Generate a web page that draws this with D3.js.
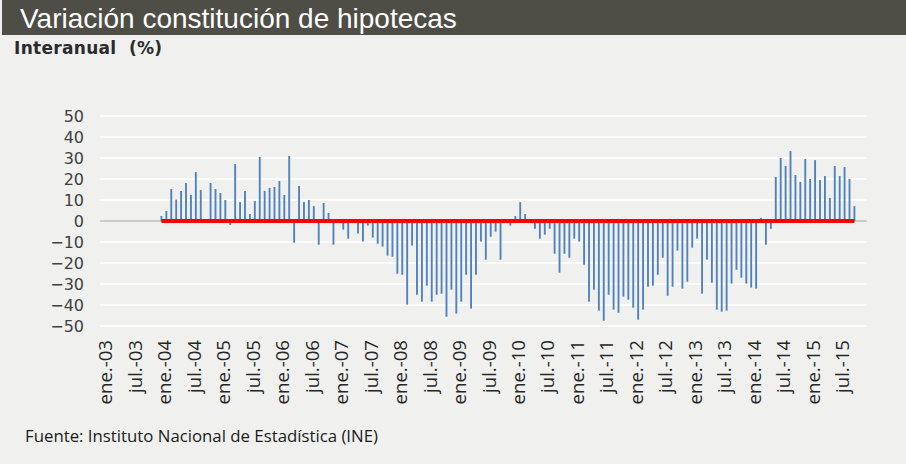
<!DOCTYPE html>
<html>
<head>
<meta charset="utf-8">
<script src="https://cdn.jsdelivr.net/npm/d3@7"></script>
<style>
  html, body { margin: 0; padding: 0; background: #f0f1ef; }
  svg { display: block; }
</style>
</head>
<body>
<svg id="chart" width="906" height="464"></svg>
<script>
// ---- Data ----
const years = ["03","04","05","06","07","08","09","10","11","12","13","14","15"];
const monthNames = ["ene.","feb.","mar.","abr.","may.","jun.","jul.","ago.","sep.","oct.","nov.","dic."];

const v2003 = [null,null,null,null,null,null,null,null,null,null,null,null];
const v2004 = [2.4, 4.8, 15.2, 10.2, 14.3, 18.1, 12.4, 23.3, 14.8, -0.8, 18.1, 15.2];
const v2005 = [13.3, 10.0, -1.9, 27.1, 9.0, 14.3, 3.3, 9.5, 30.5, 14.3, 15.7, 16.2];
const v2006 = [19.0, 12.4, 31.0, -10.3, 16.7, 9.0, 10.0, 7.1, -11.3, 8.6, 3.8, -11.3];
const v2007 = [0.0, -4.1, -8.4, 0.0, -6.0, -9.8, -2.2, -7.9, -10.8, -12.2, -16.5, -17.0];
const v2008 = [-25.1, -25.6, -39.8, -11.7, -35.1, -38.4, -30.8, -38.4, -35.1, -34.6, -45.6, -32.7];
const v2009 = [-44.1, -38.4, -25.6, -41.7, -25.6, -9.8, -18.4, -7.5, -5.1, -18.4, 1.0, -2.2];
const v2010 = [2.4, 9.0, 3.3, 1.0, -3.7, -8.4, -6.5, -3.7, -15.6, -24.6, -15.6, -17.5];
const v2011 = [-8.4, -9.8, -20.8, -38.4, -32.7, -42.7, -47.5, -35.1, -42.2, -43.7, -36.0, -37.5];
const v2012 = [-41.3, -47.0, -42.2, -31.3, -30.8, -25.6, -17.5, -35.6, -31.3, -14.1, -32.2, -28.9];
const v2013 = [-12.7, -8.4, -34.6, -18.4, -29.4, -42.2, -43.2, -42.7, -29.8, -23.2, -27.0, -29.8];
const v2014 = [-31.7, -32.2, 1.4, -11.3, -3.7, 21.0, 30.0, 26.2, 33.3, 21.9, 18.6, 29.5];
const v2015 = [20.0, 29.0, 19.5, 21.4, 11.0, 26.2, 21.4, 25.7, 20.0, 7.1, null, null];

const yTicks = [50, 40, 30, 20, 10, 0, -10, -20, -30, -40, -50];

const titleText = "Variación constitución de hipotecas";
const subtitleText = "Interanual\u00a0\u00a0(%)";
const sourceText = "Fuente: Instituto Nacional de Estadística (INE)";

// ---- Build table ----
const yearly = [v2003,v2004,v2005,v2006,v2007,v2008,v2009,v2010,v2011,v2012,v2013,v2014,v2015];
const months = [];
yearly.forEach((arr, yi) => arr.forEach((v, mi) => {
  months.push({ label: monthNames[mi] + "-" + years[yi], value: v, m: mi });
}));
const xTickLabels = months.filter(d => d.m === 0 || d.m === 6).map(d => d.label);

// ---- Layout ----
const svg = d3.select("#chart");
const W = 906, H = 464;
const plot = { left: 100, right: 866.7, top: 116, bottom: 326 };

svg.append("rect").attr("x", 0).attr("y", 0).attr("width", W).attr("height", H).attr("fill", "#f0f1ef");
svg.append("rect").attr("x", 2).attr("y", 0).attr("width", W - 2).attr("height", 35).attr("fill", "#4f4e46");
svg.append("text").attr("x", 20).attr("y", 27.5)
  .attr("font-family", "'Liberation Sans', Arial, sans-serif").attr("font-size", 28)
  .attr("fill", "#ffffff").text(titleText);
svg.append("text").attr("x", 14).attr("y", 54)
  .attr("font-family", "'DejaVu Sans', Verdana, sans-serif").attr("font-weight", "bold")
  .attr("font-size", 17).attr("letter-spacing", 0.3).attr("fill", "#2b2b2b").text(subtitleText);

const x = d3.scaleBand().domain(months.map(d => d.label)).range([plot.left, plot.right]).paddingInner(0).paddingOuter(0);
const y = d3.scaleLinear().domain([-50, 50]).range([plot.bottom, plot.top]);

// gridlines
svg.append("g").selectAll("line").data(yTicks.filter(t => t !== 0)).join("line")
  .attr("x1", plot.left).attr("x2", plot.right)
  .attr("y1", d => y(d)).attr("y2", d => y(d))
  .attr("stroke", "#ffffff").attr("stroke-width", 1.5);

// y axis labels
const yAxis = d3.axisLeft(y).tickValues(yTicks).tickSize(0).tickPadding(0).tickFormat(d3.format("d"));
const gy = svg.append("g").attr("transform", `translate(${plot.left - 16},0)`).call(yAxis);
gy.select(".domain").remove();
gy.selectAll("text").attr("font-family", "'DejaVu Sans', Verdana, sans-serif")
  .attr("font-size", 16).attr("fill", "#404040").attr("dy", "0.36em");

// zero axis line (grey)
svg.append("line").attr("x1", plot.left).attr("x2", plot.right)
  .attr("y1", y(0)).attr("y2", y(0)).attr("stroke", "#a6a6a6").attr("stroke-width", 1.2);

// bars
const bw = x.bandwidth();
const barW = bw * 0.38;
svg.append("g").selectAll("rect").data(months.filter(d => d.value !== null)).join("rect")
  .attr("x", d => x(d.label) + (bw - barW) / 2)
  .attr("width", barW)
  .attr("y", d => y(Math.max(0, d.value)))
  .attr("height", d => Math.abs(y(d.value) - y(0)))
  .attr("fill", "#4f81bd");

// red reference line over months with data
const withData = months.filter(d => d.value !== null);
const first = withData[0], last = withData[withData.length - 1];
svg.append("line")
  .attr("x1", x(first.label) + bw / 2).attr("x2", x(last.label) + bw / 2)
  .attr("y1", y(0)).attr("y2", y(0))
  .attr("stroke", "#ff0000").attr("stroke-width", 4);

// x axis labels (rotated)
const xAxis = d3.axisBottom(x).tickValues(xTickLabels).tickSize(0).tickPadding(0);
const gx = svg.append("g").attr("transform", `translate(0,${plot.bottom})`).call(xAxis);
gx.select(".domain").remove();
gx.selectAll("text")
  .attr("font-family", "'Open Sans', 'Noto Sans', sans-serif")
  .attr("font-size", 18.6).attr("fill", "#262626")
  .attr("text-anchor", "end")
  .attr("transform", "translate(3,14) rotate(-90)")
  .attr("x", 0).attr("y", 0).attr("dy", "0.36em");

// source
svg.append("text").attr("x", 25).attr("y", 442)
  .attr("font-family", "'Open Sans', 'Noto Sans', sans-serif").attr("font-size", 16.8)
  .attr("fill", "#1a1a1a").text(sourceText);
</script>
</body>
</html>
